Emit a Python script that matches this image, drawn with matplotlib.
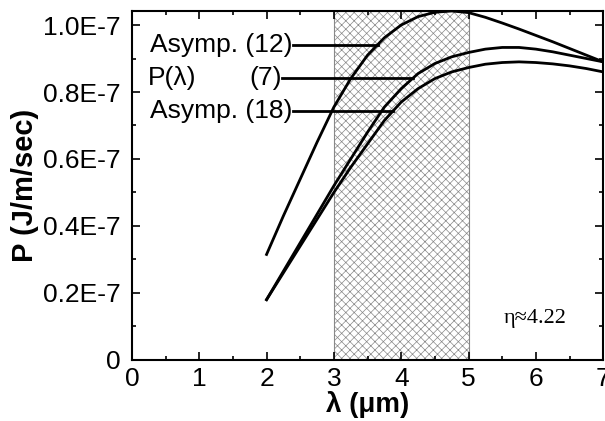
import matplotlib.pyplot as plt
import numpy as np
from matplotlib.ticker import MultipleLocator, FuncFormatter

# wavelength grid (um) and power curves (units of 1E-7 J/m/sec)
lam = [2.0, 2.25, 2.5, 2.75, 3.0, 3.25, 3.5, 3.75, 4.0, 4.25, 4.5, 4.75,
       5.0, 5.25, 5.5, 5.75, 6.0, 6.25, 6.5, 6.75, 7.0]
asymp12 = [0.315, 0.43, 0.54, 0.65, 0.755, 0.84, 0.91, 0.962, 1.0, 1.025, 1.038, 1.042,
           1.037, 1.023, 1.006, 0.988, 0.969, 0.95, 0.93, 0.91, 0.89]
p_lam = [0.18, 0.265, 0.35, 0.435, 0.52, 0.60, 0.68, 0.755, 0.81, 0.855, 0.885, 0.905,
         0.918, 0.928, 0.933, 0.933, 0.928, 0.92, 0.91, 0.90, 0.89]
asymp18 = [0.18, 0.26, 0.34, 0.42, 0.50, 0.575, 0.645, 0.715, 0.77, 0.81, 0.84, 0.86,
           0.873, 0.883, 0.888, 0.89, 0.888, 0.884, 0.878, 0.87, 0.86]

band = (3.0, 5.0)  # shaded window
scale = 1e-7

curves = [asymp12, p_lam, asymp18]
# where each leader line meets its curve
leader_x = [3.65, 4.17, 3.88]

plt.rcParams['font.family'] = ['Liberation Sans', 'DejaVu Sans']
plt.rcParams['hatch.color'] = '#a8a8a8'
plt.rcParams['hatch.linewidth'] = 0.5

fig = plt.figure(figsize=(6.05, 4.21), dpi=100)
ax = fig.add_axes([0.218, 0.145, 0.779, 0.829])

ax.axvspan(band[0], band[1], facecolor='white', edgecolor='#888888',
           hatch='xxxx', linewidth=0.8, zorder=0)

for c in curves:
    ax.plot(lam, np.array(c) * scale, color='black', lw=2, zorder=3)

# labels with leader lines
lx = [0.24, 0.24, 0.24]
ly = [np.interp(x, lam, c) for x, c in zip(leader_x, curves)]
text_end = [2.39, 2.23, 2.39]
fs = 19
ax.text(text_end[0], ly[0] * scale, 'Asymp. (12)', ha='right', va='center', fontsize=fs)
ax.text(lx[1], ly[1] * scale, 'P(λ)', ha='left', va='center', fontsize=fs)
ax.text(text_end[1], ly[1] * scale, '(7)', ha='right', va='center', fontsize=fs)
ax.text(text_end[2], ly[2] * scale, 'Asymp. (18)', ha='right', va='center', fontsize=fs)
for x0, x1, y in zip(text_end, leader_x, ly):
    ax.plot([x0, x1], [y * scale, y * scale], color='black', lw=2, zorder=3)

ax.text(5.52, 0.125e-7, 'η≈4.22', fontsize=16, ha='left', va='center',
        family=['Liberation Serif', 'DejaVu Serif'])

ax.set_xlim(0, 7)
ax.set_ylim(0, 1.042e-7)
ax.xaxis.set_major_locator(MultipleLocator(1))
ax.xaxis.set_minor_locator(MultipleLocator(0.5))
ax.yaxis.set_major_locator(MultipleLocator(0.2e-7))
ax.yaxis.set_minor_locator(MultipleLocator(0.1e-7))

def yfmt(v, pos):
    if abs(v) < 1e-12:
        return '0'
    return '%.1fE-7' % (v / scale)

ax.yaxis.set_major_formatter(FuncFormatter(yfmt))
ax.tick_params(which='both', direction='in', top=True, right=True, labelsize=19, width=1.2)
ax.tick_params(which='major', length=6)
ax.tick_params(which='minor', length=3)
ax.tick_params(axis='y', pad=8)
ax.tick_params(axis='x', pad=5)
for s in ax.spines.values():
    s.set_linewidth(1.5)

ax.set_xlabel('λ (μm)', fontsize=20, fontweight='bold', labelpad=0)
ax.set_ylabel('P (J/m/sec)', fontsize=21, fontweight='bold', labelpad=3)

fig.savefig('out.png', dpi=100)
